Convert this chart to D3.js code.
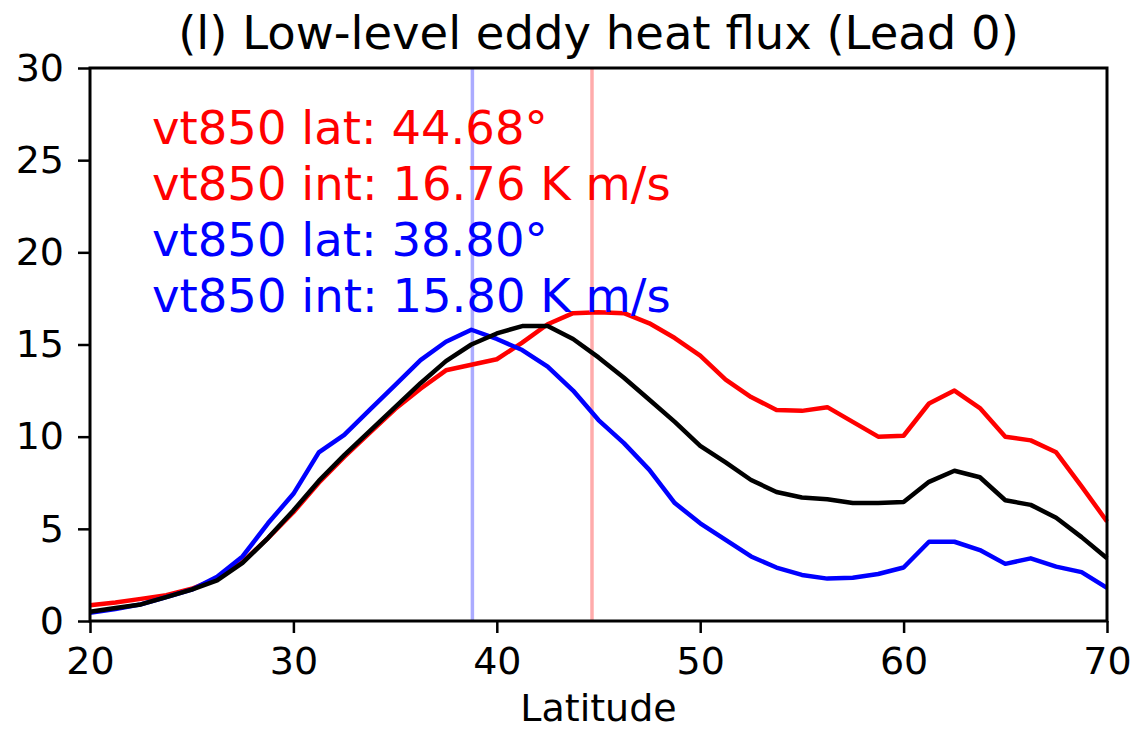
<!DOCTYPE html>
<html>
<head>
<meta charset="utf-8">
<script src="https://cdn.jsdelivr.net/npm/d3@7"></script>
<style>
  body { margin: 0; background: #fff; }
  text { font-family: "DejaVu Sans", sans-serif; }
</style>
</head>
<body>
<svg width="1135" height="733"></svg>
<script>
// latitude grid, 1.25 deg steps from 20 to 70
var lats = d3.range(41).map(i => 20 + i * 1.25);

// experiment (red)
var redVals = [0.85, 1.0, 1.2, 1.4, 1.75, 2.3, 3.2, 4.5, 5.9, 7.5,
  8.9, 10.2, 11.5, 12.6, 13.6, 13.9, 14.2, 15.1, 16.1, 16.7,
  16.75, 16.7, 16.15, 15.35, 14.4, 13.1, 12.15, 11.45, 11.4, 11.6,
  10.8, 10.0, 10.05, 11.8, 12.5, 11.55, 10.0, 9.8, 9.15, 7.3, 5.4];

// reference (black)
var blackVals = [0.5, 0.7, 0.9, 1.3, 1.7, 2.2, 3.15, 4.5, 6.0, 7.6,
  9.0, 10.3, 11.6, 12.9, 14.1, 15.0, 15.6, 16.0, 16.0, 15.3,
  14.3, 13.2, 12.0, 10.8, 9.5, 8.6, 7.65, 7.0, 6.7, 6.6,
  6.4, 6.4, 6.45, 7.55, 8.15, 7.8, 6.55, 6.3, 5.6, 4.55, 3.4];

// control (blue)
var blueVals = [0.45, 0.65, 0.9, 1.3, 1.7, 2.4, 3.5, 5.3, 6.9, 9.15,
  10.1, 11.45, 12.8, 14.15, 15.15, 15.8, 15.3, 14.7, 13.8, 12.5,
  10.9, 9.65, 8.2, 6.4, 5.3, 4.4, 3.5, 2.9, 2.5, 2.3,
  2.35, 2.55, 2.9, 4.3, 4.3, 3.85, 3.1, 3.4, 2.95, 2.65, 1.8];

var peakLats = [{ lat: 38.80, color: "#0000ff" }, { lat: 44.68, color: "#ff0000" }];

var notes = [
  { text: "vt850 lat: 44.68°", color: "#ff0000" },
  { text: "vt850 int: 16.76 K m/s", color: "#ff0000" },
  { text: "vt850 lat: 38.80°", color: "#0000ff" },
  { text: "vt850 int: 15.80 K m/s", color: "#0000ff" }
];

var xTicks = [20, 30, 40, 50, 60, 70];
var yTicks = [0, 5, 10, 15, 20, 25, 30];

var svg = d3.select("svg"),
  margin = { top: 68, right: 28, bottom: 112, left: 90 },
  width = +svg.attr("width"),
  height = +svg.attr("height");

const innerWidth = width - margin.left - margin.right;
const innerHeight = height - margin.top - margin.bottom;

const x = d3.scaleLinear().domain([20, 70]).range([0, innerWidth]);
const y = d3.scaleLinear().domain([0, 30]).range([innerHeight, 0]);

const g = svg.append("g")
  .attr("transform", "translate(" + margin.left + "," + margin.top + ")");

// vertical markers at the flux-weighted latitudes
g.selectAll(".vline")
  .data(peakLats)
  .enter().append("line")
  .attr("x1", d => x(d.lat)).attr("x2", d => x(d.lat))
  .attr("y1", 0).attr("y2", innerHeight)
  .attr("stroke", d => d.color)
  .attr("stroke-opacity", 0.33)
  .attr("stroke-width", 3.5);

const line = d3.line()
  .x((d, i) => x(lats[i]))
  .y(d => y(d));

var series = [
  { vals: redVals, color: "#ff0000" },
  { vals: blueVals, color: "#0000ff" },
  { vals: blackVals, color: "#000000" }
];

g.selectAll(".series")
  .data(series)
  .enter().append("path")
  .attr("d", d => line(d.vals))
  .attr("fill", "none")
  .attr("stroke", d => d.color)
  .attr("stroke-width", 4.5)
  .attr("stroke-linejoin", "round");

// axes
const xAxis = g.append("g")
  .attr("transform", "translate(0," + innerHeight + ")")
  .call(d3.axisBottom(x).tickValues(xTicks).tickSize(12).tickPadding(14).tickSizeOuter(0));

const yAxis = g.append("g")
  .call(d3.axisLeft(y).tickValues(yTicks).tickSize(12).tickPadding(14).tickSizeOuter(0));

[xAxis, yAxis].forEach(a => {
  a.select(".domain").remove();
  a.selectAll("line").attr("stroke", "#000").attr("stroke-width", 2.5);
  a.selectAll("text").attr("font-size", "38px").attr("fill", "#000")
    .style("font-family", "DejaVu Sans");
});

// frame
g.append("rect")
  .attr("width", innerWidth).attr("height", innerHeight)
  .attr("fill", "none").attr("stroke", "#000").attr("stroke-width", 3);

// annotations
g.selectAll(".note")
  .data(notes)
  .enter().append("text")
  .attr("x", x(23.05))
  .attr("y", (d, i) => y(25.9) + i * 56)
  .attr("fill", d => d.color)
  .attr("font-size", "46.5px")
  .text(d => d.text);

// title and x label
svg.append("text")
  .attr("x", margin.left + innerWidth / 2)
  .attr("y", 49)
  .attr("text-anchor", "middle")
  .attr("font-size", "46.5px")
  .text("(l) Low-level eddy heat flux (Lead 0)");

svg.append("text")
  .attr("x", margin.left + innerWidth / 2)
  .attr("y", 721)
  .attr("text-anchor", "middle")
  .attr("font-size", "38px")
  .text("Latitude");
</script>
</body>
</html>
